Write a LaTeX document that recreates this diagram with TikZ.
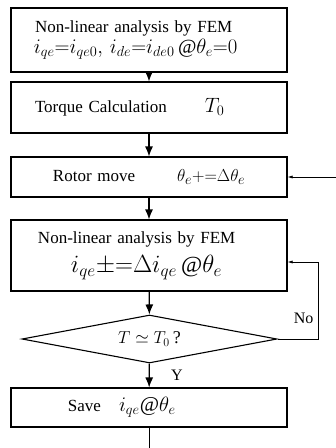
\documentclass[tikz,border=0pt]{standalone}
\usepackage{amsmath,amssymb}
\usepackage{fontspec}
\setmainfont{Liberation Serif}
\usetikzlibrary{arrows.meta,positioning,shapes.geometric}

\begin{document}
\begin{tikzpicture}[x=1pt,y=1pt,>=Latex,
  box/.style={draw,line width=1.1pt,minimum width=276pt,text width=232pt,inner xsep=22pt,align=left,font=\fontsize{17}{20}\selectfont},
  flow/.style={line width=1.2pt,-{Latex[length=10pt,width=8pt]}},
  back/.style={line width=.6pt,-{Latex[length=5pt,width=3pt]}}]
\useasboundingbox (0,0) rectangle (336,-448);
\node[box,minimum height=64pt] (init) at (149,-40) {\hspace*{2pt}Non-linear analysis by FEM\\[1pt] \hspace*{1pt}\fontsize{20}{23}\selectfont $i_{qe}{=}i_{qe0},\, i_{de}{=}i_{de0}\,@\theta_e{=}0$};
\node[box,minimum height=51pt] (torque) at (149,-107.5) {\hspace*{2pt}Torque Calculation\hspace{38pt}\fontsize{20}{22}\selectfont$T_0$};
\node[box,minimum height=40pt] (move) at (149,-177) {\hspace*{20pt}Rotor move\hspace{42pt}\fontsize{19}{20}\selectfont$\theta_e{+}{=}\Delta\theta_e$};
\node[box,minimum height=71pt] (fem) at (149,-255.5) {\hspace*{5pt}Non-linear analysis by FEM\\[7pt] \hspace*{38pt}\fontsize{23}{25}\selectfont$i_{qe}{\pm}{=}\Delta i_{qe}\,@\theta_e$};
\node[draw,line width=1.1pt,diamond,aspect=5.3,minimum width=255pt,minimum height=48pt,inner sep=0pt,font=\fontsize{18}{20}\selectfont] (check) at (149.5,-339) {$T\simeq T_0$\,?};
\node[box,minimum height=39pt] (save) at (149,-407.5) {\hspace*{35pt}Save\hspace{18pt}\fontsize{21}{22}\selectfont$i_{qe}@\theta_e$};
\coordinate (ret) at (336,-177);
\coordinate (loop) at (318,-262);
\coordinate (out) at (149,-448);
\draw[flow] (init) -- (torque);
\draw[flow] (torque) -- (move);
\draw[flow] (move) -- (fem);
\draw[flow] (fem) -- (check);
\draw[flow] (check) -- node[right=18pt,font=\fontsize{16}{18}\selectfont] (yes) {Y} (save);
\draw[back] (ret) -- (move.east |- ret);
\draw[back] (check.east) -| (loop) -- (fem.east |- loop);
\node[anchor=east,font=\fontsize{16}{18}\selectfont] (no) at (317,-318) {No};
\draw[line width=.6pt] (save) -- (out);
\end{tikzpicture}
\end{document}
